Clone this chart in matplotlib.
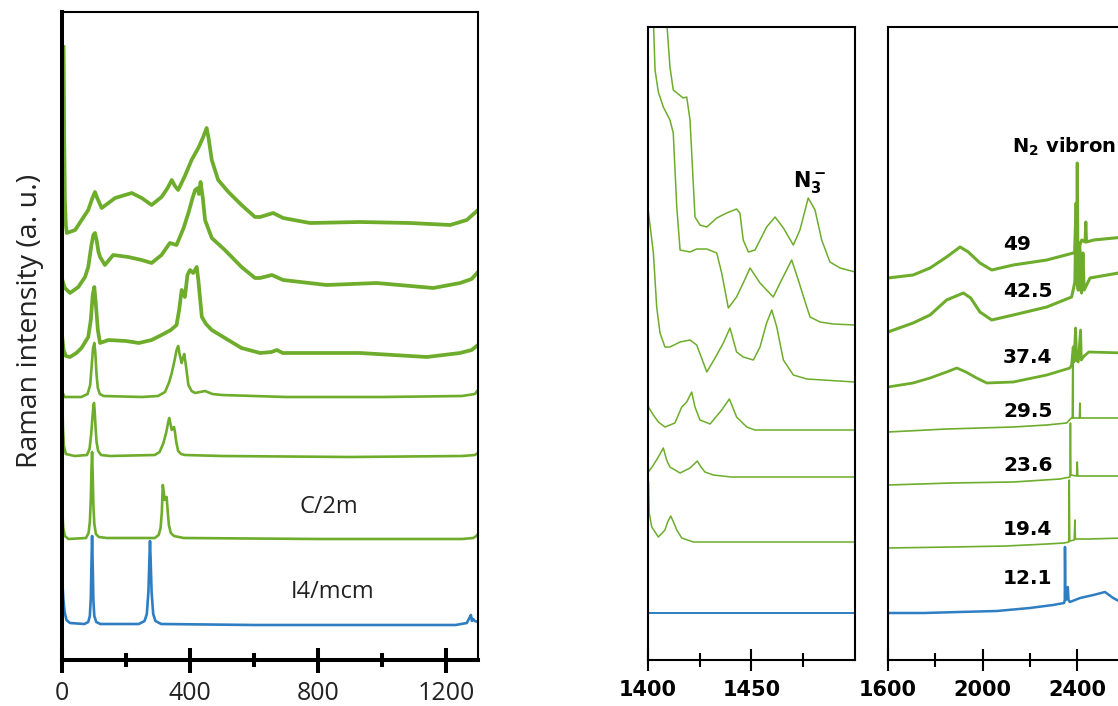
import numpy as np
import matplotlib
matplotlib.use("Agg")
import matplotlib.pyplot as plt
from matplotlib.ticker import FixedLocator

GREEN = '#6DAD2B'
BLUE = '#2F7EC1'

# ---- low-frequency spectra (cm-1, stacked intensity a.u.), bottom to top
low_i4mcm = [(1, 79), (4, 62), (8, 48), (14, 40), (25, 37), (70, 36), (82, 38), (87, 44), (90, 62),
             (92, 95), (94, 124), (96, 95), (98, 60), (101, 44), (107, 38), (120, 36), (240, 36),
             (258, 39), (265, 46), (270, 68), (273, 100), (275, 119), (277, 100), (280, 68), (285, 46),
             (292, 39), (310, 36), (600, 35), (1000, 35), (1230, 35), (1265, 37), (1273, 42),
             (1278, 45), (1281, 39), (1285, 41), (1290, 39), (1300, 38)]
low_c2m = [(1, 148), (4, 132), (9, 124), (20, 121), (75, 122), (83, 127), (87, 138), (90, 160),
           (92, 190), (94, 208), (96, 185), (98, 155), (101, 136), (106, 126), (115, 123), (140, 122),
           (290, 122), (302, 125), (308, 132), (312, 148), (315, 175), (318, 168), (321, 160),
           (324, 162), (327, 163), (330, 150), (334, 135), (340, 127), (350, 124), (380, 122),
           (800, 121), (1250, 121), (1285, 122), (1295, 124), (1300, 126)]
low_3 = [(1, 258), (3, 232), (6, 214), (12, 206), (40, 204), (78, 205), (86, 211), (91, 225),
         (95, 242), (98, 254), (100, 257), (102, 250), (105, 232), (108, 218), (113, 209), (122, 205),
         (150, 204), (290, 205), (305, 208), (317, 217), (326, 228), (332, 238), (335, 242),
         (339, 236), (343, 230), (347, 232), (350, 233), (353, 228), (357, 218), (363, 209),
         (372, 206), (384, 205), (500, 204), (900, 203), (1250, 204), (1290, 205), (1300, 207)]
low_4 = [(1, 268), (8, 263), (60, 263), (80, 266), (88, 275), (93, 295), (97, 312), (101, 317),
         (104, 308), (108, 285), (112, 272), (118, 266), (130, 264), (250, 263), (300, 264),
         (322, 268), (335, 278), (343, 287), (352, 300), (358, 310), (363, 314), (368, 305),
         (374, 297), (378, 302), (382, 306), (387, 295), (395, 275), (405, 269), (416, 267),
         (447, 269), (470, 266), (500, 265), (700, 263), (1000, 263), (1250, 264), (1290, 266),
         (1300, 270)]
low_5 = [(1, 322), (5, 310), (12, 304), (25, 303), (45, 307), (61, 312), (82, 323), (90, 340),
         (96, 365), (101, 373), (106, 355), (112, 330), (119, 317), (145, 320), (200, 319),
         (240, 317), (280, 320), (311, 325), (340, 330), (358, 335), (366, 350), (374, 370),
         (384, 363), (392, 385), (400, 390), (410, 387), (421, 393), (426, 380), (431, 363),
         (437, 343), (450, 336), (468, 330), (509, 322), (561, 312), (619, 307), (655, 308),
         (671, 310), (690, 307), (800, 307), (931, 307), (1140, 303), (1244, 307), (1280, 310),
         (1300, 315)]
low_6 = [(1, 380), (9, 372), (25, 367), (51, 373), (72, 383), (82, 393), (92, 415), (98, 425),
         (103, 427), (108, 420), (114, 408), (119, 403), (134, 395), (160, 405), (207, 403),
         (249, 400), (280, 397), (311, 405), (337, 417), (358, 415), (380, 432), (395, 447),
         (408, 462), (416, 470), (424, 472), (428, 466), (433, 478), (440, 462), (447, 440),
         (468, 422), (509, 410), (561, 393), (603, 382), (619, 382), (656, 385), (691, 380),
         (827, 375), (983, 377), (1160, 372), (1244, 377), (1280, 381), (1300, 388)]
low_7 = [(5, 613), (7, 520), (9, 460), (12, 435), (15, 427), (41, 430), (82, 450), (95, 462),
         (103, 468), (110, 462), (124, 452), (166, 462), (218, 467), (249, 462), (280, 455),
         (311, 463), (330, 472), (343, 480), (353, 474), (363, 470), (384, 484), (405, 500),
         (426, 512), (440, 522), (452, 532), (458, 522), (468, 500), (488, 480), (520, 468),
         (561, 455), (603, 443), (619, 443), (660, 447), (691, 442), (775, 437), (931, 438),
         (1088, 437), (1213, 435), (1265, 440), (1300, 450)]

# ---- N3- region (1400-1500 cm-1)
mid_1 = [(1400, 47), (1450, 47), (1500, 47)]
mid_2 = [(1400.3, 178), (1400.6, 147), (1401.8, 133), (1405, 123), (1408.2, 130), (1409.5, 138),
         (1411, 144), (1412.5, 137), (1413.9, 130), (1416.3, 122), (1421.9, 118), (1500, 118)]
mid_3 = [(1400, 207), (1400.2, 188), (1402.6, 195), (1405, 203), (1407.4, 212), (1409, 200),
         (1410.6, 193), (1415.5, 187), (1420.3, 192), (1423.8, 199), (1425.6, 193), (1427.5, 188),
         (1431.6, 185), (1440, 183), (1500, 183)]
mid_4 = [(1400.2, 253), (1402.6, 245), (1405, 238), (1408.2, 233), (1413, 237), (1416.3, 253),
         (1418.7, 258), (1421.1, 268), (1422.7, 253), (1425.1, 240), (1430, 236), (1435.6, 250),
         (1439.3, 261), (1442.8, 243), (1447.7, 233), (1451.7, 230), (1500, 230)]
mid_5 = [(1400.2, 448), (1402.6, 407), (1404.2, 353), (1405.8, 327), (1408.2, 313), (1410.6, 313),
         (1415.5, 318), (1420.3, 320), (1423.5, 315), (1425.9, 302), (1428.4, 288), (1432.4, 302),
         (1436.4, 317), (1439.6, 332), (1442.8, 308), (1446, 303), (1450.9, 300), (1454.1, 313),
         (1457.3, 337), (1459.8, 350), (1462.2, 333), (1465.4, 300), (1470.2, 285), (1476.7, 281),
         (1500, 278)]
mid_6 = [(1402.6, 640), (1403.4, 590), (1405, 568), (1407.4, 553), (1410.6, 540), (1412.2, 527),
         (1413.9, 453), (1415.5, 410), (1420.3, 408), (1423.5, 411), (1428.4, 411), (1433.2, 407),
         (1435.6, 387), (1438.8, 352), (1442.8, 363), (1446, 377), (1449.3, 392), (1454.1, 377),
         (1460.5, 363), (1463.8, 377), (1469.4, 400), (1472.6, 380), (1476.7, 353), (1478.3, 343),
         (1483.1, 338), (1489.5, 336), (1500, 335)]
mid_7 = [(1409, 640), (1410.6, 593), (1412.2, 570), (1417, 562), (1418.7, 563), (1420.3, 540),
         (1422.7, 443), (1425.1, 435), (1428.4, 433), (1433.2, 442), (1438, 447), (1442.8, 451),
         (1444.4, 447), (1446, 420), (1448.5, 408), (1451.7, 410), (1457.3, 433), (1461.4, 443),
         (1465.4, 432), (1470.2, 415), (1473.4, 430), (1477.4, 462), (1480.7, 450), (1483.9, 420),
         (1487.9, 398), (1492.8, 392), (1500, 388)]

# ---- N2 vibron region (1600+ cm-1)
hi_1 = [(1600, 47), (1750, 47), (1900, 48), (2060, 49), (2200, 52), (2298, 55), (2345, 57),
        (2348, 60), (2349, 113), (2351, 60), (2358, 61), (2361, 73), (2364, 60), (2370, 58),
        (2413, 62), (2469, 65), (2518, 68), (2553, 62), (2600, 56)]
hi_2 = [(1600, 112), (1870, 113), (2100, 114), (2272, 116), (2345, 117), (2365, 118), (2367, 180),
        (2369, 119), (2388, 120), (2391, 140), (2393, 121), (2450, 121), (2600, 122)]
hi_3 = [(1600, 175), (1870, 177), (2130, 178), (2328, 181), (2370, 183), (2372, 237), (2374, 185),
        (2398, 184), (2401, 198), (2403, 184), (2600, 184)]
hi_4 = [(1600, 228), (1848, 231), (2130, 233), (2272, 235), (2356, 237), (2376, 242), (2380, 242),
        (2382, 313), (2384, 242), (2410, 242), (2412, 257), (2414, 242), (2600, 242)]
hi_5 = [(1600, 273), (1706, 277), (1778, 282), (1848, 288), (1891, 292), (1930, 288), (1975, 282),
        (2018, 277), (2130, 278), (2272, 285), (2370, 292), (2377, 295), (2384, 313), (2387, 298),
        (2394, 332), (2398, 300), (2405, 298), (2415, 330), (2418, 300), (2430, 304), (2450, 308),
        (2600, 307)]
hi_6 = [(1600, 328), (1706, 337), (1778, 345), (1848, 360), (1919, 367), (1950, 362), (1989, 348),
        (2039, 340), (2130, 345), (2272, 353), (2377, 363), (2391, 378), (2396, 457), (2400, 378),
        (2405, 370), (2412, 410), (2419, 367), (2425, 407), (2430, 370), (2455, 382), (2600, 388)]
hi_7 = [(1600, 382), (1706, 385), (1778, 392), (1848, 403), (1905, 413), (1940, 408), (1989, 397),
        (2039, 390), (2130, 395), (2272, 400), (2384, 407), (2390, 408), (2394, 440), (2397, 410),
        (2399, 412), (2401, 497), (2403, 420), (2406, 410), (2409, 370), (2412, 415), (2420, 420),
        (2434, 418), (2437, 438), (2440, 418), (2470, 420), (2600, 423)]

pressures = ['12.1', '19.4', '23.6', '29.5', '37.4', '42.5', '49']
pressure_y = [76, 125, 189, 243, 297, 363, 410]
phases = ['I4/mcm', 'C/2m']
phase_xy = [(844, 62), (834, 147)]

low = [low_i4mcm, low_c2m, low_3, low_4, low_5, low_6, low_7]
mid = [mid_1, mid_2, mid_3, mid_4, mid_5, mid_6, mid_7]
hi = [hi_1, hi_2, hi_3, hi_4, hi_5, hi_6, hi_7]
colors = [BLUE] + [GREEN] * 6

W, H = 1118, 706
fig = plt.figure(figsize=(W / 100, H / 100), dpi=100)
ax1 = fig.add_axes([62 / W, 46 / H, 416 / W, 648 / H])
ax2 = fig.add_axes([648 / W, 46 / H, 207 / W, 633 / H])
ax3 = fig.add_axes([888 / W, 46 / H, 236.3 / W, 633 / H])

# left panel
lw_low = [1.9, 1.9, 1.9, 1.9, 2.7, 2.7, 2.7]
for tr, c, lw in zip(low, colors, lw_low):
    xy = np.array(tr).T
    ax1.plot(xy[0], xy[1], color=c, lw=lw, solid_joinstyle='round')
ax1.set_xlim(0, 1300)
ax1.set_ylim(0, 648)
ax1.set_yticks([])
ax1.xaxis.set_major_locator(FixedLocator([0, 400, 800, 1200]))
ax1.xaxis.set_minor_locator(FixedLocator([200, 600, 1000]))
ax1.tick_params(axis='x', which='major', direction='inout', length=18, width=2.9,
                labelsize=18, pad=6, labelcolor='#222222')
ax1.tick_params(axis='x', which='minor', direction='inout', length=9.4, width=2.9)
for lab in ax1.get_xticklabels():
    lab.set_fontfamily('Open Sans')
for s in ['left', 'bottom']:
    ax1.spines[s].set_linewidth(2.9)
for s in ['top', 'right']:
    ax1.spines[s].set_linewidth(1.5)
for name, (x, y) in zip(phases, phase_xy):
    ax1.text(x, y, name, ha='center', va='baseline', fontsize=17, family='Open Sans',
             color='#222222')
fig.text(30 / W, 1 - 321 / H, 'Raman intensity (a. u.)', rotation=90, ha='center',
         va='center', fontsize=20.5, family='Open Sans', color='#222222')

# middle panel
lw_mid = [1.4] + [1.1] * 6
for tr, c, lw in zip(mid, colors, lw_mid):
    xy = np.array(tr).T
    ax2.plot(xy[0], xy[1], color=c, lw=lw)
ax2.set_xlim(1400, 1500)
ax2.set_ylim(0, 633)
ax2.xaxis.set_major_locator(FixedLocator([1400, 1450]))
ax2.xaxis.set_minor_locator(FixedLocator([1425, 1475]))
ax2.text(1470, 473, r'$\mathbf{N_3^-}$', fontsize=15, ha='left', va='baseline')

# right panel
lw_hi = [1.8, 1.2, 1.2, 1.2, 2.0, 2.2, 2.2]
for tr, c, lw in zip(hi, colors, lw_hi):
    xy = np.array(tr).T
    ax3.plot(xy[0], xy[1], color=c, lw=lw)
ax3.set_xlim(1600, 2600)
ax3.set_ylim(0, 633)
ax3.xaxis.set_major_locator(FixedLocator([1600, 2000, 2400]))
ax3.xaxis.set_minor_locator(FixedLocator([1800, 2200]))
for p, y in zip(pressures, pressure_y):
    ax3.text(2087, y, p, fontsize=14.5, fontweight='bold', ha='left', va='baseline')
ax3.text(2125, 507, r'$\mathbf{N_2}$' + ' vibron', fontsize=14, fontweight='bold',
         ha='left', va='baseline', clip_on=False)

for ax in [ax2, ax3]:
    ax.set_yticks([])
    for s in ax.spines.values():
        s.set_linewidth(1.5)
    ax.tick_params(axis='x', which='major', direction='inout', length=16.5, width=1.5,
                   labelsize=15, pad=6)
    ax.tick_params(axis='x', which='minor', direction='inout', length=9.4, width=1.5)
    for lab in ax.get_xticklabels():
        lab.set_fontweight('bold')

fig.savefig('out.png', dpi=100)
